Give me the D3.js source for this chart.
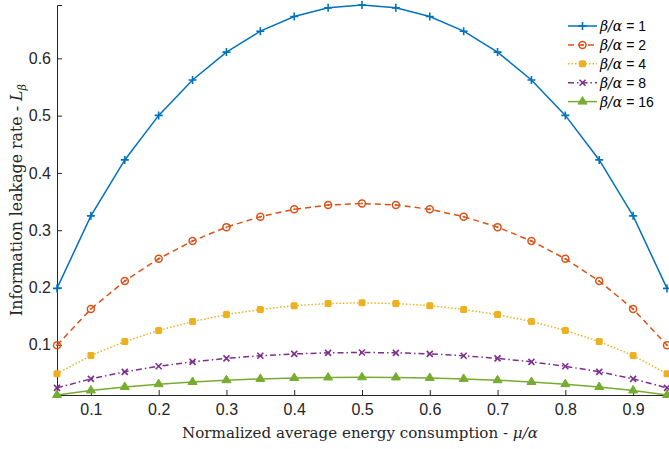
<!DOCTYPE html>
<html>
<head>
<meta charset="utf-8">
<script src="https://cdn.jsdelivr.net/npm/d3@7"></script>
<style>
 body { margin: 0; background: #fff; }
 svg { display: block; }
</style>
</head>
<body>
<div id="chart"></div>
<script>
/*************
Data
**************/
var xs = [0.05, 0.10, 0.15, 0.20, 0.25, 0.30, 0.35, 0.40, 0.45, 0.50,
 0.55, 0.60, 0.65, 0.70, 0.75, 0.80, 0.85, 0.90, 0.95];

var ratio1 = [0.1985, 0.3251, 0.4227, 0.5004, 0.5623, 0.6109, 0.6474, 0.6730, 0.6881, 0.6931,
 0.6881, 0.6730, 0.6474, 0.6109, 0.5623, 0.5004, 0.4227, 0.3251, 0.1985];
var ratio2 = [0.0993, 0.1625, 0.2113, 0.2502, 0.2812, 0.3054, 0.3237, 0.3365, 0.3441, 0.3466,
 0.3441, 0.3365, 0.3237, 0.3054, 0.2812, 0.2502, 0.2113, 0.1625, 0.0993];
var ratio4 = [0.0496, 0.0813, 0.1057, 0.1251, 0.1406, 0.1527, 0.1618, 0.1683, 0.1720, 0.1733,
 0.1720, 0.1683, 0.1618, 0.1527, 0.1406, 0.1251, 0.1057, 0.0813, 0.0496];
var ratio8 = [0.0248, 0.0406, 0.0528, 0.0626, 0.0703, 0.0764, 0.0809, 0.0841, 0.0860, 0.0866,
 0.0860, 0.0841, 0.0809, 0.0764, 0.0703, 0.0626, 0.0528, 0.0406, 0.0248];
var ratio16 = [0.0124, 0.0203, 0.0264, 0.0313, 0.0351, 0.0382, 0.0405, 0.0421, 0.0430, 0.0433,
 0.0430, 0.0421, 0.0405, 0.0382, 0.0351, 0.0313, 0.0264, 0.0203, 0.0124];

var seriesNames = ["1", "2", "4", "8", "16"];
var xTicks = [0.1, 0.2, 0.3, 0.4, 0.5, 0.6, 0.7, 0.8, 0.9];
var yTicks = [0.1, 0.2, 0.3, 0.4, 0.5, 0.6];

/*************
Params
**************/
var width = 669, height = 449;
var plotLeft = 57, plotRight = 667, plotTop = 5, plotBottom = 395;
var axisColor = "#262626";
var serifFont = "DejaVu Serif, serif";

var series = [
 { name: seriesNames[0], values: ratio1,  color: "#0072BD", dash: null,           marker: "plus" },
 { name: seriesNames[1], values: ratio2,  color: "#D95319", dash: "6,4",          marker: "circle" },
 { name: seriesNames[2], values: ratio4,  color: "#EDB120", dash: "1.5,2",        marker: "square" },
 { name: seriesNames[3], values: ratio8,  color: "#7E2F8E", dash: "6,3,1.5,3",    marker: "cross" },
 { name: seriesNames[4], values: ratio16, color: "#77AC30", dash: null,           marker: "triangle" }
];

var x = d3.scaleLinear().domain([0.05, 0.95]).range([plotLeft, plotRight]);
var y = d3.scaleLinear().domain([d3.min(ratio16), d3.max(ratio1)]).range([plotBottom, plotTop]);

var svg = d3.select("#chart").append("svg")
 .attr("width", width)
 .attr("height", height);

/*************
Axes
**************/
var xAxis = svg.append("g")
 .attr("transform", "translate(0," + plotBottom + ")")
 .call(d3.axisBottom(x).tickValues(xTicks).tickSize(-5).tickPadding(9).tickFormat(d3.format(".1f")));
var yAxis = svg.append("g")
 .attr("transform", "translate(" + plotLeft + ",0)")
 .call(d3.axisLeft(y).tickValues(yTicks).tickSize(-5).tickPadding(6).tickFormat(d3.format(".1f")));

[xAxis, yAxis].forEach(function (g) {
 g.attr("font-size", null).attr("font-family", null);
 g.select(".domain").attr("stroke", axisColor).attr("stroke-width", 1);
 g.selectAll(".tick line").attr("stroke", axisColor);
 g.selectAll(".tick text")
  .attr("fill", axisColor)
  .style("font-family", "Liberation Sans, Arial, sans-serif")
  .style("font-size", "16px");
});

/*************
Lines + markers
**************/
function drawMarker(g, type, color, size) {
 var s = size;
 if (type === "plus") {
  g.append("path").attr("d", "M" + (-s) + ",0H" + s + "M0," + (-s) + "V" + s)
   .attr("stroke", color).attr("stroke-width", 1.6).attr("fill", "none");
 } else if (type === "circle") {
  g.append("circle").attr("r", s - 0.5)
   .attr("stroke", color).attr("stroke-width", 1.5).attr("fill", "none");
  g.append("circle").attr("r", 1).attr("fill", color);
 } else if (type === "square") {
  g.append("rect").attr("x", -s + 0.5).attr("y", -s + 0.5).attr("width", 2 * s - 1).attr("height", 2 * s - 1)
   .attr("rx", 1.5).attr("fill", color);
 } else if (type === "cross") {
  var c = s - 1;
  g.append("path").attr("d", "M" + (-c) + "," + (-c) + "L" + c + "," + c + "M" + (-c) + "," + c + "L" + c + "," + (-c))
   .attr("stroke", color).attr("stroke-width", 1.6).attr("fill", "none");
 } else if (type === "triangle") {
  g.append("path").attr("d", "M0," + (-s - 1) + "L" + (s + 0.5) + "," + (s - 1.5) + "L" + (-s - 0.5) + "," + (s - 1.5) + "Z")
   .attr("fill", color).attr("stroke", color).attr("stroke-width", 1);
 }
}

var line = d3.line()
 .x(function (d, i) { return x(xs[i]); })
 .y(function (d) { return y(d); });

var plots = svg.selectAll("g.series")
 .data(series)
 .enter().append("g")
 .attr("class", "series");

plots.append("path")
 .attr("d", function (d) { return line(d.values); })
 .attr("fill", "none")
 .attr("stroke", function (d) { return d.color; })
 .attr("stroke-width", 1.5)
 .attr("stroke-dasharray", function (d) { return d.dash; });

plots.each(function (s) {
 var g = d3.select(this);
 s.values.forEach(function (v, i) {
  var m = g.append("g").attr("transform", "translate(" + x(xs[i]) + "," + y(v) + ")");
  drawMarker(m, s.marker, s.color, 4);
 });
});

/*************
Legend
**************/
var legend = svg.append("g").attr("transform", "translate(568,26)");
series.forEach(function (s, i) {
 var row = legend.append("g").attr("transform", "translate(0," + (i * 18.9) + ")");
 row.append("line")
  .attr("x1", 0).attr("x2", 29)
  .attr("stroke", s.color).attr("stroke-width", 1.5)
  .attr("stroke-dasharray", s.dash);
 drawMarker(row.append("g").attr("transform", "translate(14.5,0)"), s.marker, s.color, 4);
 var t = row.append("text").attr("x", 32).attr("y", 5)
  .attr("fill", "#000")
  .style("font-size", "14px");
 t.append("tspan").text("β/α")
  .style("font-family", serifFont).style("font-style", "italic");
 t.append("tspan").text(" = " + s.name)
  .style("font-family", "Liberation Sans, Arial, sans-serif");
});

/*************
Labels
**************/
// fit a label to the width it has in the picture
function fitText(t, target) {
 var len = t.node().getComputedTextLength();
 t.style("font-size", (15 * target / len).toFixed(2) + "px");
}

var xl = svg.append("text")
 .attr("x", 360).attr("y", 438)
 .attr("text-anchor", "middle")
 .attr("fill", "#262626")
 .style("font-family", serifFont)
 .style("font-size", "15px");
xl.append("tspan").text("Normalized average energy consumption - ");
xl.append("tspan").text("μ/α").style("font-style", "italic");
fitText(xl, 356);

var yl = svg.append("text")
 .attr("transform", "translate(22,200) rotate(-90)")
 .attr("text-anchor", "middle")
 .attr("fill", "#262626")
 .style("font-family", serifFont)
 .style("font-size", "15px");
yl.append("tspan").text("Information leakage rate - ");
yl.append("tspan").text("L").style("font-style", "italic");
yl.append("tspan").text("β").style("font-style", "italic").style("font-size", "0.7em").attr("dy", 4);
fitText(yl, 232);
</script>
</body>
</html>
